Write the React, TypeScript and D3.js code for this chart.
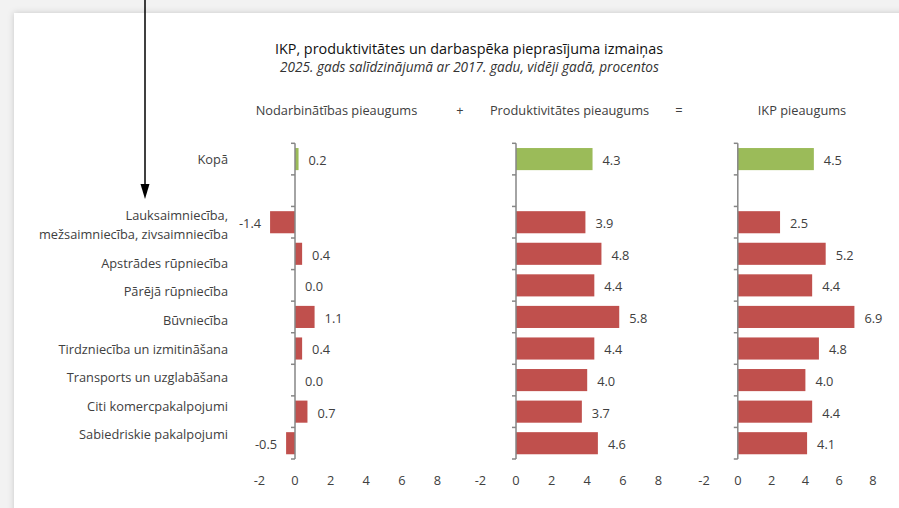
import * as d3 from 'd3';

// categories (rows), "" is the empty spacer row under "Kopā"
const categories = [
  'Kopā',
  '',
  'Lauksaimniecība,\nmežsaimniecība, zivsaimniecība',
  'Apstrādes rūpniecība',
  'Pārējā rūpniecība',
  'Būvniecība',
  'Tirdzniecība un izmitināšana',
  'Transports un uzglabāšana',
  'Citi komercpakalpojumi',
  'Sabiedriskie pakalpojumi',
];

const employmentGrowth = [0.2, null, -1.4, 0.4, 0.0, 1.1, 0.4, 0.0, 0.7, -0.5];
const productivityGrowth = [4.3, null, 3.9, 4.8, 4.4, 5.8, 4.4, 4.0, 3.7, 4.6];
const gdpGrowth = [4.5, null, 2.5, 5.2, 4.4, 6.9, 4.8, 4.0, 4.4, 4.1];

const panelTitles = ['Nodarbinātības pieaugums', 'Produktivitātes pieaugums', 'IKP pieaugums'];
const operators = ['+', '='];
const xTicks = [-2, 0, 2, 4, 6, 8];

const title = 'IKP, produktivitātes un darbaspēka pieprasījuma izmaiņas';
const subtitle = '2025. gads salīdzinājumā ar 2017. gadu, vidēji gadā, procentos';

const W = 899;
const H = 508;
const FONT = '"Open Sans", "Noto Sans", sans-serif';
const TEXT = '#404040';
const RED = '#C0504D';
const GREEN = '#9BBB59';
const FS = 12.8;

// layout of the three small panels
const panels = [
  { values: employmentGrowth, range: [259.4, 437.4], titleX: 336.5 },
  { values: productivityGrowth, range: [480.4, 658.4], titleX: 569.5 },
  { values: gdpGrowth, range: [704, 873], titleX: 802 },
];
const operatorX = [460, 679];

const yTop = 143.3;
const yBottom = 459;

export default function App() {
  const y = d3.scaleBand<string>()
    .domain(categories.map((_, i) => String(i)))
    .range([yTop, yBottom])
    .paddingInner(0.3)
    .paddingOuter(0.15);
  const step = y.step();
  const boundaries = d3.range(categories.length + 1).map(i => yTop + i * step);

  // sector labels are laid out a little tighter than the bars
  const sectors = categories.slice(2);
  const labelY = d3.scalePoint<string>().domain(sectors).range([234.5, 435]);

  return (
    <svg width={W} height={H} style={{ position: 'absolute', left: 0, top: 0 }} fontFamily={FONT}>
      <defs>
        <filter id="shadow" x="-5%" y="-5%" width="110%" height="110%">
          <feDropShadow dx="0" dy="0" stdDeviation="3" floodColor="#000" floodOpacity="0.18" />
        </filter>
      </defs>
      <rect x={0} y={0} width={W} height={H} fill="#f2f2f2" />
      <rect x={14} y={13} width={W + 20} height={H + 20} fill="#fff" filter="url(#shadow)" />

      {/* arrow */}
      <line x1={145} x2={145} y1={0} y2={188} stroke="#000" strokeWidth={1.5} />
      <path d="M140.5,184 L149.5,184 L145,199 Z" fill="#000" />

      <text x={469} y={54} textAnchor="middle" fontSize={14.4} fill="#111">{title}</text>
      <text x={469.5} y={72} textAnchor="middle" fontSize={13.6} fontStyle="italic" fill="#333">{subtitle}</text>

      {panelTitles.map((t, i) => (
        <text key={t} x={panels[i].titleX} y={115} textAnchor="middle" fontSize={FS} fill={TEXT}>{t}</text>
      ))}
      {operators.map((o, i) => (
        <text key={o} x={operatorX[i]} y={115} textAnchor="middle" fontSize={FS} fill={TEXT}>{o}</text>
      ))}

      {/* category labels */}
      <text x={228} y={y('0')! + y.bandwidth() / 2} dy="0.35em" textAnchor="end" fontSize={FS} fill={TEXT}>
        {categories[0]}
      </text>
      {sectors.map(c => {
        const lines = c.split('\n');
        const lh = 18.5;
        return (
          <text key={c} x={228} textAnchor="end" fontSize={FS} fill={TEXT}>
            {lines.map((l, j) => (
              <tspan key={j} x={228} y={labelY(c)! - (lines.length - 1 - j) * lh} dy="0.35em">{l}</tspan>
            ))}
          </text>
        );
      })}

      {panels.map((p, pi) => {
        const x = d3.scaleLinear().domain([-2, 8]).range(p.range);
        const x0 = x(0);
        return (
          <g key={pi}>
            {p.values.map((v, i) => {
              if (v === null) return null;
              const yy = y(String(i))!;
              const xa = x(Math.min(0, v));
              const xb = x(Math.max(0, v));
              const neg = v < 0;
              return (
                <g key={i}>
                  {v !== 0 && (
                    <rect x={xa} y={yy} width={xb - xa} height={y.bandwidth()} fill={i === 0 ? GREEN : RED} />
                  )}
                  <text
                    x={neg ? xa - 9 : xb + 10}
                    y={yy + y.bandwidth() / 2 + 1.5}
                    dy="0.35em"
                    textAnchor={neg ? 'end' : 'start'}
                    fontSize={FS}
                    fill={TEXT}
                  >
                    {v.toFixed(1)}
                  </text>
                </g>
              );
            })}
            <line x1={x0} x2={x0} y1={yTop} y2={yBottom} stroke="#868686" strokeWidth={1.5} />
            {boundaries.map((b, k) => (
              <line key={k} x1={x0 - 4} x2={x0} y1={b} y2={b} stroke="#868686" strokeWidth={1.5} />
            ))}
            {xTicks.map(t => (
              <text key={t} x={x(t)} y={485} textAnchor="middle" fontSize={FS} fill={TEXT}>{t}</text>
            ))}
          </g>
        );
      })}
    </svg>
  );
}
